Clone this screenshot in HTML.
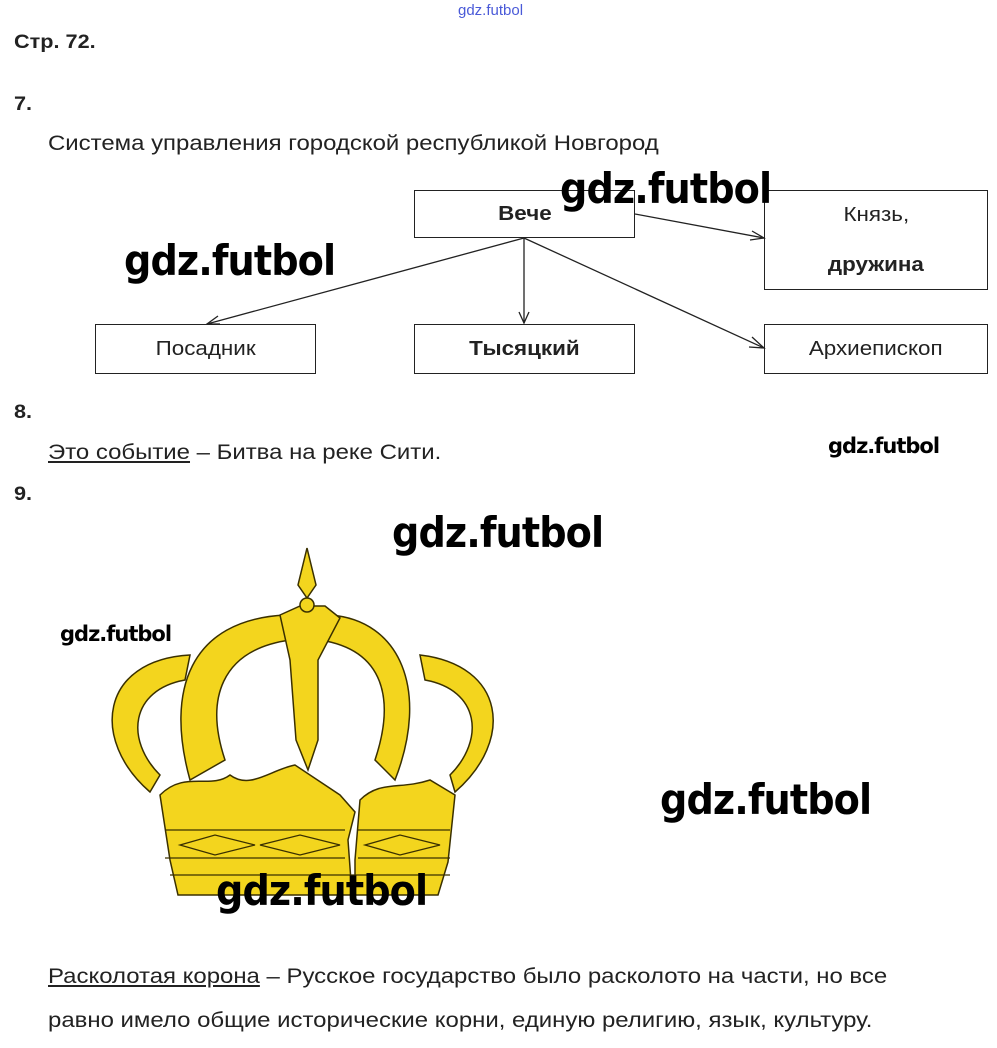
<!DOCTYPE html>
<html><head><meta charset="utf-8"><style>
body{margin:0;width:997px;height:1048px;background:#fff;position:relative;font-family:"Liberation Sans",sans-serif;color:#222;overflow:hidden}
.t{position:absolute;white-space:nowrap;transform:scaleX(1.14);transform-origin:0 0}
.b{position:absolute;border:1.5px solid #222;box-sizing:border-box;display:flex;align-items:center;justify-content:center;font-size:20px}
.b span{display:inline-block;transform:scaleX(1.12)}
.w{position:absolute;white-space:nowrap;font-family:"DejaVu Sans","Liberation Sans",sans-serif;font-weight:bold;color:#000;letter-spacing:-1px;transform:scaleX(0.91);transform-origin:0 0}
</style></head><body>
<div class="t" style="left:458px;top:2px;font-size:15px;color:#4a5ad8;transform:none">gdz.futbol</div>
<div class="t" style="left:14px;top:32px;font-size:19px;font-weight:bold">Стр. 72.</div>
<div class="t" style="left:14px;top:94px;font-size:19px;font-weight:bold">7.</div>
<div class="t" style="left:48px;top:132px;font-size:21px">Система управления городской республикой Новгород</div>
<div class="b" style="left:414px;top:190px;width:221px;height:48px;font-weight:bold"><span>Вече</span></div>
<div class="b" style="left:764px;top:190px;width:224px;height:100px;flex-direction:column;line-height:50px"><span>Князь,</span><span><b>дружина</b></span></div>
<div class="b" style="left:95px;top:324px;width:221px;height:50px"><span>Посадник</span></div>
<div class="b" style="left:414px;top:324px;width:221px;height:50px;font-weight:bold"><span>Тысяцкий</span></div>
<div class="b" style="left:764px;top:324px;width:224px;height:50px"><span>Архиепископ</span></div>
<svg style="position:absolute;left:0;top:0" width="997" height="1048">
<g stroke="#222" stroke-width="1.3" fill="none">
<line x1="524" y1="238" x2="207" y2="324"/><polyline points="218,316 207,324 220,324"/>
<line x1="524" y1="238" x2="524" y2="323"/><polyline points="519,312 524,323 529,312"/>
<line x1="524" y1="238" x2="764" y2="348"/><polyline points="752,337 764,348 749,347"/>
<line x1="635" y1="214" x2="764" y2="238"/><polyline points="752,231 764,238 750,240"/>
</g>
<g fill="#f3d51e" stroke="#3a3000" stroke-width="1.5">
<path d="M150,792 C90,740 100,660 190,655 L185,680 C130,690 125,740 160,775 Z"/>
<path d="M190,780 C165,690 190,620 285,615 L290,640 C220,650 205,700 225,760 Z"/>
<path d="M455,792 C515,740 505,665 420,655 L425,680 C480,690 485,740 450,775 Z"/>
<path d="M395,780 C430,690 400,620 330,615 L320,640 C385,650 395,700 375,760 Z"/>
<path d="M280,615 L300,606 L325,606 L340,618 L318,660 L318,740 L308,770 L296,740 L290,660 Z"/>
<path d="M307,548 L316,585 L307,598 L298,585 Z"/>
<circle cx="307" cy="605" r="7"/>
<path d="M160,795 C185,770 210,790 230,775 C250,790 270,770 295,765 L340,795 L355,812 L348,840 L352,895 L178,895 L170,860 Z"/>
<path d="M360,800 C380,780 400,790 430,780 L455,795 L448,862 L438,895 L355,895 L355,860 Z"/>
</g>
<g stroke="#3a3000" stroke-width="1.3" fill="none">
<line x1="165" y1="830" x2="345" y2="830"/><line x1="165" y1="858" x2="345" y2="858"/><line x1="170" y1="875" x2="450" y2="875"/>
<line x1="358" y1="830" x2="450" y2="830"/><line x1="358" y1="858" x2="450" y2="858"/>
<path d="M180,845 L215,835 L255,845 L215,855 Z M260,845 L300,835 L340,845 L300,855 Z M365,845 L400,835 L440,845 L400,855 Z"/>
</g>
</svg>
<div class="t" style="left:14px;top:402px;font-size:19px;font-weight:bold">8.</div>
<div class="t" style="left:48px;top:441px;font-size:21px"><u>Это событие</u> – Битва на реке Сити.</div>
<div class="t" style="left:14px;top:484px;font-size:19px;font-weight:bold">9.</div>
<div class="t" style="left:48px;top:965px;font-size:21px"><u>Расколотая корона</u> – Русское государство было расколото на части, но все</div>
<div class="t" style="left:48px;top:1009px;font-size:21px">равно имело общие исторические корни, единую религию, язык, культуру.</div>
<div class="w" style="left:560px;top:164px;font-size:42px">gdz.futbol</div>
<div class="w" style="left:124px;top:236px;font-size:42px">gdz.futbol</div>
<div class="w" style="left:828px;top:434px;font-size:21px;transform:none">gdz.futbol</div>
<div class="w" style="left:392px;top:508px;font-size:42px">gdz.futbol</div>
<div class="w" style="left:60px;top:622px;font-size:21px;transform:none">gdz.futbol</div>
<div class="w" style="left:660px;top:775px;font-size:42px">gdz.futbol</div>
<div class="w" style="left:216px;top:866px;font-size:42px">gdz.futbol</div>
</body></html>
